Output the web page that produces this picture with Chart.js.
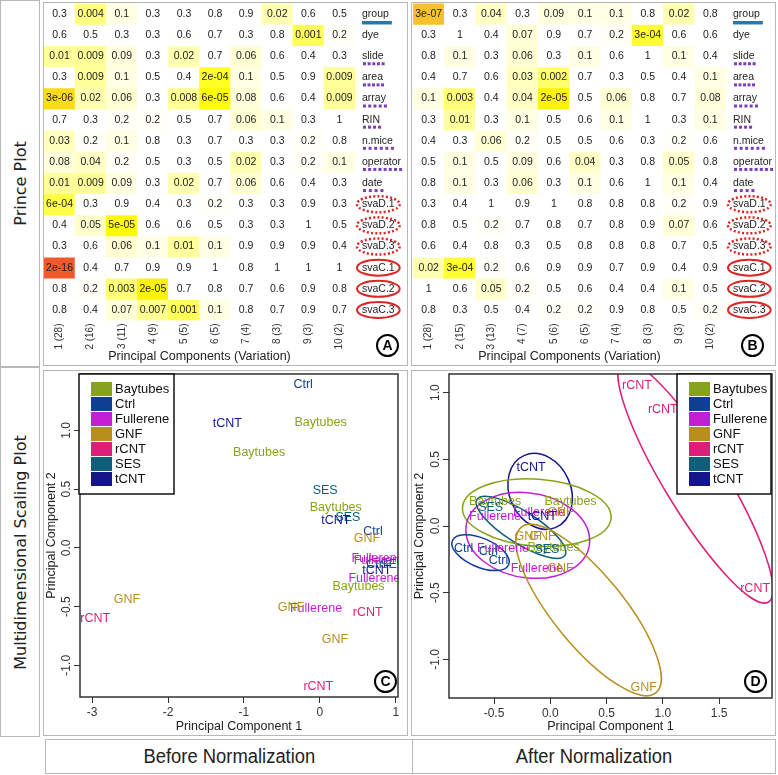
<!DOCTYPE html>
<html>
<head>
<meta charset="utf-8">
<script src="https://cdn.jsdelivr.net/npm/chart.js@4.4.0/dist/chart.umd.min.js"></script>
<style>
  body { margin: 0; background: #fff; }
  #page { position: relative; width: 778px; height: 775px; overflow: hidden; background: #fff;
          font-family: "Liberation Sans", Arial, sans-serif; color: #222; }
  .box { position: absolute; border: 1px solid #b8b8b8; box-sizing: border-box; }
  .cv { position: absolute; }
  .side { display: flex; align-items: center; justify-content: center; }
  .side span { transform: rotate(-90deg); white-space: nowrap; font-family: "DejaVu Sans", sans-serif; font-size: 16px; }
  .tag { position: absolute; width: 23px; height: 23px; border: 2.5px solid #000; border-radius: 50%;
         box-sizing: border-box; font: bold 14px "Liberation Sans", Arial, sans-serif; text-align: center; line-height: 18px; color: #000; }
  .foot { display: flex; align-items: center; justify-content: center; font-size: 20px; }
  .foot span { display: inline-block; transform: scaleX(0.92); white-space: nowrap; }
</style>
</head>
<body>
<div id="page">
  <div class="box side" style="left:0;top:0;width:40px;height:367px"><span>Prince Plot</span></div>
  <div class="box side" style="left:0;top:367px;width:40px;height:370px"><span>Multidimensional Scaling Plot</span></div>

  <div class="box" style="left:43px;top:2px;width:365px;height:364px"></div>
  <div class="box" style="left:411px;top:2px;width:365px;height:364px"></div>
  <div class="box" style="left:43px;top:370px;width:365px;height:366px"></div>
  <div class="box" style="left:411px;top:370px;width:365px;height:366px"></div>

  <canvas id="heatA" class="cv" style="left:44px;top:2px" width="363" height="362"></canvas>
  <canvas id="heatB" class="cv" style="left:412px;top:2px" width="364" height="362"></canvas>
  <canvas id="mdsC" class="cv" style="left:44px;top:370px" width="363" height="365"></canvas>
  <canvas id="mdsD" class="cv" style="left:412px;top:370px" width="364" height="365"></canvas>

  <div class="tag" style="left:376px;top:334px">A</div>
  <div class="tag" style="left:741px;top:334px">B</div>
  <div class="tag" style="left:374px;top:670px">C</div>
  <div class="tag" style="left:744px;top:670px">D</div>

  <div class="box foot" style="left:45px;top:739px;width:368px;height:35px"><span>Before Normalization</span></div>
  <div class="box foot" style="left:412px;top:739px;width:364px;height:35px"><span>After Normalization</span></div>
</div>

<script>
// ===== DATA =====
const FONT = '"Liberation Sans", Arial, sans-serif';

const rowNames = ['group', 'dye', 'slide', 'area', 'array', 'RIN', 'n.mice', 'operator', 'date',
  'svaD.1', 'svaD.2', 'svaD.3', 'svaC.1', 'svaC.2', 'svaC.3'];

const pcLabelsBefore = ['1 (28)', '2 (16)', '3 (11)', '4 (9)', '5 (5)', '6 (5)', '7 (4)', '8 (3)', '9 (3)', '10 (2)'];
const pcLabelsAfter = ['1 (28)', '2 (15)', '3 (13)', '4 (7)', '5 (6)', '6 (5)', '7 (4)', '8 (3)', '9 (3)', '10 (2)'];

// p-values, one row per covariate (rowNames order), one column per PC
const pBefore = [
  [0.3, 0.004, 0.1, 0.3, 0.3, 0.8, 0.9, 0.02, 0.6, 0.5],
  [0.6, 0.5, 0.3, 0.3, 0.6, 0.7, 0.3, 0.8, 0.001, 0.2],
  [0.01, 0.009, 0.09, 0.3, 0.02, 0.7, 0.06, 0.6, 0.4, 0.3],
  [0.3, 0.009, 0.1, 0.5, 0.4, 2e-4, 0.1, 0.5, 0.9, 0.009],
  [3e-6, 0.02, 0.06, 0.3, 0.008, 6e-5, 0.08, 0.6, 0.4, 0.009],
  [0.7, 0.3, 0.2, 0.2, 0.5, 0.7, 0.06, 0.1, 0.3, 1],
  [0.03, 0.2, 0.1, 0.8, 0.3, 0.7, 0.3, 0.3, 0.2, 0.8],
  [0.08, 0.04, 0.2, 0.5, 0.3, 0.5, 0.02, 0.3, 0.2, 0.1],
  [0.01, 0.009, 0.09, 0.3, 0.02, 0.7, 0.06, 0.6, 0.4, 0.3],
  [6e-4, 0.3, 0.9, 0.4, 0.3, 0.2, 0.3, 0.3, 0.9, 0.3],
  [0.4, 0.05, 5e-5, 0.6, 0.6, 0.5, 0.3, 0.3, 1, 0.5],
  [0.3, 0.6, 0.06, 0.1, 0.01, 0.1, 0.9, 0.9, 0.9, 0.4],
  [2e-16, 0.4, 0.7, 0.9, 0.9, 1, 0.8, 1, 1, 1],
  [0.8, 0.2, 0.003, 2e-5, 0.7, 0.8, 0.7, 0.6, 0.9, 0.8],
  [0.8, 0.4, 0.07, 0.007, 0.001, 0.1, 0.8, 0.7, 0.9, 0.7]
];

const pAfter = [
  [3e-7, 0.3, 0.04, 0.3, 0.09, 0.1, 0.1, 0.8, 0.02, 0.8],
  [0.3, 1, 0.4, 0.07, 0.9, 0.7, 0.2, 3e-4, 0.6, 0.6],
  [0.8, 0.1, 0.3, 0.06, 0.3, 0.1, 0.6, 1, 0.1, 0.4],
  [0.4, 0.7, 0.6, 0.03, 0.002, 0.7, 0.3, 0.5, 0.4, 0.1],
  [0.1, 0.003, 0.4, 0.04, 2e-5, 0.5, 0.06, 0.8, 0.7, 0.08],
  [0.3, 0.01, 0.3, 0.1, 0.5, 0.6, 0.1, 1, 0.3, 0.1],
  [0.4, 0.3, 0.06, 0.2, 0.5, 0.5, 0.6, 0.3, 0.2, 0.6],
  [0.5, 0.1, 0.5, 0.09, 0.6, 0.04, 0.3, 0.8, 0.05, 0.8],
  [0.8, 0.1, 0.3, 0.06, 0.3, 0.1, 0.6, 1, 0.1, 0.4],
  [0.3, 0.4, 1, 0.9, 1, 0.8, 0.8, 0.8, 0.2, 0.9],
  [0.8, 0.5, 0.2, 0.7, 0.8, 0.7, 0.8, 0.9, 0.07, 0.6],
  [0.6, 0.4, 0.8, 0.3, 0.5, 0.8, 0.8, 0.8, 0.7, 0.5],
  [0.02, 3e-4, 0.2, 0.6, 0.9, 0.9, 0.7, 0.9, 0.4, 0.9],
  [1, 0.6, 0.05, 0.2, 0.5, 0.6, 0.4, 0.4, 0.1, 0.5],
  [0.8, 0.3, 0.5, 0.4, 0.2, 0.2, 0.9, 0.8, 0.5, 0.2]
];

const groupNames = ['Baytubes', 'Ctrl', 'Fullerene', 'GNF', 'rCNT', 'SES', 'tCNT'];
const groupColors = ['#87a31e', '#0f3f92', '#c21fd2', '#b88f1e', '#dc1f78', '#0f5e7c', '#16168c'];

// MDS before normalization
const mdsBeforeGroup = ['Ctrl', 'tCNT', 'Baytubes', 'Baytubes', 'SES', 'Baytubes', 'SES', 'tCNT', 'Ctrl', 'GNF',
  'Fullerene', 'Fullerene', 'Ctrl', 'SES', 'tCNT', 'Fullerene', 'Baytubes', 'rCNT', 'Fullerene', 'GNF',
  'GNF', 'rCNT', 'GNF', 'rCNT'];
const mdsBeforeX = [-0.22, -1.22, 0.01, -0.80, 0.07, 0.21, 0.37, 0.21, 0.70, 0.62,
  0.76, 0.79, 0.74, 0.96, 0.75, 0.72, 0.51, 0.63, -0.05, -0.38,
  -2.54, -2.96, 0.20, -0.02];
const mdsBeforeY = [1.39, 1.06, 1.07, 0.81, 0.49, 0.34, 0.26, 0.23, 0.14, 0.08,
  -0.09, -0.11, -0.14, -0.14, -0.19, -0.26, -0.33, -0.55, -0.52, -0.51,
  -0.44, -0.60, -0.78, -1.18];

// MDS after normalization
const mdsAfterGroup = ['tCNT', 'Baytubes', 'Baytubes', 'SES', 'Fullerene', 'Fullerene', 'tCNT', 'GNF', 'GNF', 'GNF',
  'Baytubes', 'SES', 'Ctrl', 'Fullerene', 'Ctrl', 'Ctrl', 'Fullerene', 'GNF', 'GNF', 'rCNT', 'rCNT', 'rCNT'];
const mdsAfterX = [-0.17, 0.18, -0.49, -0.53, -0.49, -0.10, -0.07, 0.09, -0.20, -0.07,
  0.03, -0.03, -0.77, -0.42, -0.55, -0.46, -0.12, 0.09, 0.83, 0.77, 1.00, 1.82];
const mdsAfterY = [0.44, 0.18, 0.18, 0.14, 0.07, 0.10, 0.07, 0.10, -0.08, -0.08,
  -0.16, -0.18, -0.17, -0.17, -0.19, -0.26, -0.32, -0.32, -1.21, 1.05, 0.87, -0.47];

// group ellipses after normalization: centre and two conjugate semi-axes (data units)
const ellGroup = ['tCNT', 'Baytubes', 'Fullerene', 'SES', 'Ctrl', 'GNF', 'rCNT'];
const ellCx = [-0.09, -0.12, -0.20, -0.26, -0.62, 0.34, 1.29];
const ellCy = [0.26, 0.10, -0.07, -0.01, -0.20, -0.63, 0.33];
const ellUx = [0.14, 0.66, 0.55, 0.39, 0.25, 0.60, 0.65];
const ellUy = [-0.27, -0.04, -0.04, -0.21, -0.09, -0.62, -0.90];
const ellVx = [-0.25, 0.02, 0.00, -0.08, -0.05, -0.24, -0.23];
const ellVy = [-0.09, 0.25, 0.32, -0.10, -0.10, -0.17, -0.12];

const xTicksBefore = [-3, -2, -1, 0, 1];
const xTicksAfter = [-0.5, 0, 0.5, 1, 1.5];
const yTicks = [-1, -0.5, 0, 0.5, 1];

// ===== HELPERS =====
function fmtP(p) {
  if (p >= 0.001) return String(p);
  const [m, e] = p.toExponential(0).split('e');
  const n = Math.abs(parseInt(e, 10));
  return m + 'e-' + (n < 10 ? '0' + n : n);
}

function pColor(p) {
  const t = -Math.log10(p);
  if (t <= 4.2) {
    const b = Math.max(0, Math.min(1, 1 - (t - 0.6) / 3.6));
    return 'rgb(255,255,' + Math.round(255 * b) + ')';
  }
  const stops = [[4.2, [255, 255, 0]], [6.5, [246, 193, 42]], [15.7, [238, 90, 42]]];
  for (let i = 1; i < stops.length; i++) {
    if (t <= stops[i][0] || i === stops.length - 1) {
      const f = Math.min(1, (t - stops[i - 1][0]) / (stops[i][0] - stops[i - 1][0]));
      const c = stops[i - 1][1].map((v, k) => Math.round(v + (stops[i][1][k] - v) * f));
      return 'rgb(' + c.join(',') + ')';
    }
  }
}

const colorOf = (g) => groupColors[groupNames.indexOf(g)];

// ===== HEATMAP (PRINCE PLOT) =====
const heatText = {
  id: 'heatText',
  afterDatasetsDraw(chart) {
    const { ctx, chartArea: a, scales: { x } } = chart;
    ctx.save();
    ctx.font = '10.5px ' + FONT;
    ctx.textBaseline = 'middle';
    ctx.fillStyle = '#222';
    chart.data.datasets.forEach((ds, r) => {
      const meta = chart.getDatasetMeta(r);
      ctx.textAlign = 'center';
      meta.data.forEach((bar, c) => {
        ctx.fillText(fmtP(ds.pvals[c]), bar.x, (bar.y + bar.base) / 2);
      });
      const yc = (meta.data[0].y + meta.data[0].base) / 2;
      const lx = a.right + 7;
      const w = ctx.measureText(ds.label).width;
      ctx.textAlign = 'left';
      ctx.fillStyle = '#222';
      ctx.fillText(ds.label, lx, yc);

      if (ds.label === 'group') {
        ctx.fillStyle = '#2a78a6';
        ctx.fillRect(lx, yc + 7, w + 3, 3.5);
      } else if (ds.label.startsWith('sva')) {
        ctx.beginPath();
        ctx.ellipse(lx + w / 2, yc, w / 2 + 5, 8, 0, 0, Math.PI * 2);
        ctx.strokeStyle = '#e02424';
        ctx.lineWidth = ds.label.startsWith('svaD') ? 2.5 : 2;
        ctx.setLineDash(ds.label.startsWith('svaD') ? [2, 2.2] : []);
        ctx.stroke();
        ctx.setLineDash([]);
      } else if (ds.label !== 'dye') {
        ctx.fillStyle = '#7b3fb5';
        const n = Math.max(3, Math.round(w / 6) + 1);
        for (let k = 0; k < n; k++) {
          ctx.fillRect(lx + 1 + k * (w - 3) / (n - 1), yc + 6, 3, 3);
        }
      }
      ctx.fillStyle = '#222';
    });

    // column labels, read bottom to top, ending just under the cells
    ctx.font = '10px ' + FONT;
    ctx.fillStyle = '#333';
    ctx.textAlign = 'right';
    chart.data.labels.forEach((lab, i) => {
      ctx.save();
      ctx.translate(x.getPixelForTick(i), a.bottom + 3);
      ctx.rotate(-Math.PI / 2);
      ctx.fillText(lab, 0, 0);
      ctx.restore();
    });
    ctx.restore();
  }
};

function heatChart(id, pvals, labels, padLeft, padRight) {
  return new Chart(document.getElementById(id), {
    type: 'bar',
    data: {
      labels: labels,
      datasets: rowNames.map((name, r) => ({
        label: name,
        pvals: pvals[r],
        data: pvals[r].map(() => [r, r + 1]),
        backgroundColor: pvals[r].map(pColor),
        borderWidth: 0,
        barPercentage: 1,
        categoryPercentage: 1,
        grouped: false
      }))
    },
    options: {
      responsive: false,
      animation: false,
      layout: { padding: { left: padLeft, right: padRight, top: 1.4, bottom: 0 } },
      plugins: { legend: { display: false }, tooltip: { enabled: false } },
      scales: {
        x: {
          grid: { display: false },
          border: { display: false },
          ticks: { display: false },
          title: { display: true, text: 'Principal Components (Variation)', color: '#222',
                   font: { size: 12.5, family: FONT }, padding: { top: 0, bottom: 0 } },
          afterFit: (s) => { s.height = 43.5; }
        },
        y: { display: false, min: 0, max: 15, reverse: true }
      }
    },
    plugins: [heatText]
  });
}

heatChart('heatA', pBefore, pcLabelsBefore, 0, 52);
heatChart('heatB', pAfter, pcLabelsAfter, 1, 50);

// ===== MDS SCATTER =====
const mdsDecor = {
  id: 'mdsDecor',
  beforeDatasetsDraw(chart, args, opts) {
    const { ctx, chartArea: a, scales: { x, y } } = chart;
    ctx.save();
    ctx.beginPath();
    ctx.rect(a.left, a.top, a.width, a.height);
    ctx.clip();
    (opts.ellipses || []).forEach((e) => {
      const cx = x.getPixelForValue(e.cx), cy = y.getPixelForValue(e.cy);
      const ux = x.getPixelForValue(e.cx + e.ux) - cx, uy = y.getPixelForValue(e.cy + e.uy) - cy;
      const vx = x.getPixelForValue(e.cx + e.vx) - cx, vy = y.getPixelForValue(e.cy + e.vy) - cy;
      ctx.save();
      ctx.transform(ux, uy, vx, vy, cx, cy);
      ctx.beginPath();
      ctx.arc(0, 0, 1, 0, Math.PI * 2);
      ctx.restore();
      ctx.strokeStyle = e.color;
      ctx.lineWidth = 1.5;
      ctx.stroke();
    });
    ctx.restore();
  },
  afterDatasetsDraw(chart) {
    const { ctx, chartArea: a } = chart;
    ctx.save();
    ctx.beginPath();
    ctx.rect(a.left, a.top, a.width, a.height);
    ctx.clip();
    ctx.font = '12.5px ' + FONT;
    ctx.textAlign = 'center';
    ctx.textBaseline = 'middle';
    chart.data.datasets.forEach((ds, i) => {
      ctx.fillStyle = ds.textColor;
      chart.getDatasetMeta(i).data.forEach((pt) => ctx.fillText(ds.label, pt.x, pt.y));
    });
    ctx.restore();
  },
  afterDraw(chart, args, opts) {
    const { ctx, chartArea: a, scales: { y } } = chart;
    ctx.save();
    // plot box
    ctx.strokeStyle = '#333';
    ctx.lineWidth = 1.5;
    ctx.strokeRect(a.left, a.top, a.width, a.height);
    // y tick labels, parallel to the axis
    ctx.fillStyle = '#333';
    ctx.font = '12px ' + FONT;
    ctx.textAlign = 'center';
    ctx.textBaseline = 'middle';
    yTicks.forEach((v) => {
      ctx.save();
      ctx.translate(a.left - 13, y.getPixelForValue(v));
      ctx.rotate(-Math.PI / 2);
      ctx.fillText(v.toFixed(1), 0, 0);
      ctx.restore();
    });
    // legend
    const lw = opts.legendWidth, lh = 120;
    const lx = opts.legendSide === 'left' ? a.left - 1 : a.right - lw - 1;
    const ly = a.top;
    ctx.fillStyle = '#fff';
    ctx.fillRect(lx, ly, lw, lh);
    ctx.strokeStyle = '#111';
    ctx.lineWidth = 1.5;
    ctx.strokeRect(lx, ly, lw, lh);
    ctx.font = '13px ' + FONT;
    ctx.textAlign = 'left';
    groupNames.forEach((g, i) => {
      const yy = ly + 15 + i * 15;
      ctx.fillStyle = groupColors[i];
      ctx.fillRect(lx + 12, yy - 7, 21, 14);
      ctx.fillStyle = '#111';
      ctx.fillText(g, lx + 36, yy);
    });
    ctx.restore();
  }
};

function mdsChart(id, grp, xs, ys, xr, yr, xTicks, xFmt, pad, yWidth, xHeight, legendSide, legendWidth, ellipses) {
  const datasets = groupNames.map((g, gi) => ({
    label: g,
    textColor: groupColors[gi],
    data: grp.map((name, i) => (name === g ? { x: xs[i], y: ys[i] } : null)).filter((p) => p),
    pointRadius: 0,
    showLine: false
  }));
  return new Chart(document.getElementById(id), {
    type: 'scatter',
    data: { datasets },
    options: {
      responsive: false,
      animation: false,
      layout: { padding: pad },
      plugins: {
        legend: { display: false },
        tooltip: { enabled: false },
        mdsDecor: { legendSide, legendWidth, ellipses }
      },
      scales: {
        x: {
          min: xr[0], max: xr[1],
          afterBuildTicks: (s) => { s.ticks = xTicks.map((v) => ({ value: v })); },
          grid: { drawOnChartArea: false, drawTicks: true, tickLength: 6, color: '#333' },
          border: { display: false },
          ticks: { color: '#333', padding: 2, font: { size: 12, family: FONT }, callback: xFmt },
          title: { display: true, text: 'Principal Component 1', color: '#222',
                   font: { size: 12.5, family: FONT }, padding: { top: 0, bottom: 1 } },
          afterFit: (s) => { s.height = xHeight; }
        },
        y: {
          min: yr[0], max: yr[1],
          afterBuildTicks: (s) => { s.ticks = yTicks.map((v) => ({ value: v })); },
          grid: { drawOnChartArea: false, drawTicks: true, tickLength: 6, color: '#333' },
          border: { display: false },
          ticks: { display: false },
          title: { display: true, text: 'Principal Component 2', color: '#222',
                   font: { size: 12.5, family: FONT }, padding: { top: 0.5, bottom: 0 } },
          afterFit: (s) => { s.width = yWidth; }
        }
      }
    },
    plugins: [mdsDecor]
  });
}

mdsChart('mdsC', mdsBeforeGroup, mdsBeforeX, mdsBeforeY, [-3.16, 1.03], [-1.27, 1.48],
  xTicksBefore, (v) => String(v), { left: 0, right: 9, top: 4, bottom: 0 }, 36, 38, 'left', 95, []);

mdsChart('mdsD', mdsAfterGroup, mdsAfterX, mdsAfterY, [-0.90, 1.97], [-1.29, 1.14],
  xTicksAfter, (v) => v.toFixed(1), { left: 0, right: 4, top: 4, bottom: 0 }, 37, 37, 'right', 94,
  ellGroup.map((g, i) => ({
    color: colorOf(g), cx: ellCx[i], cy: ellCy[i], ux: ellUx[i], uy: ellUy[i], vx: ellVx[i], vy: ellVy[i]
  })));
</script>
</body>
</html>
